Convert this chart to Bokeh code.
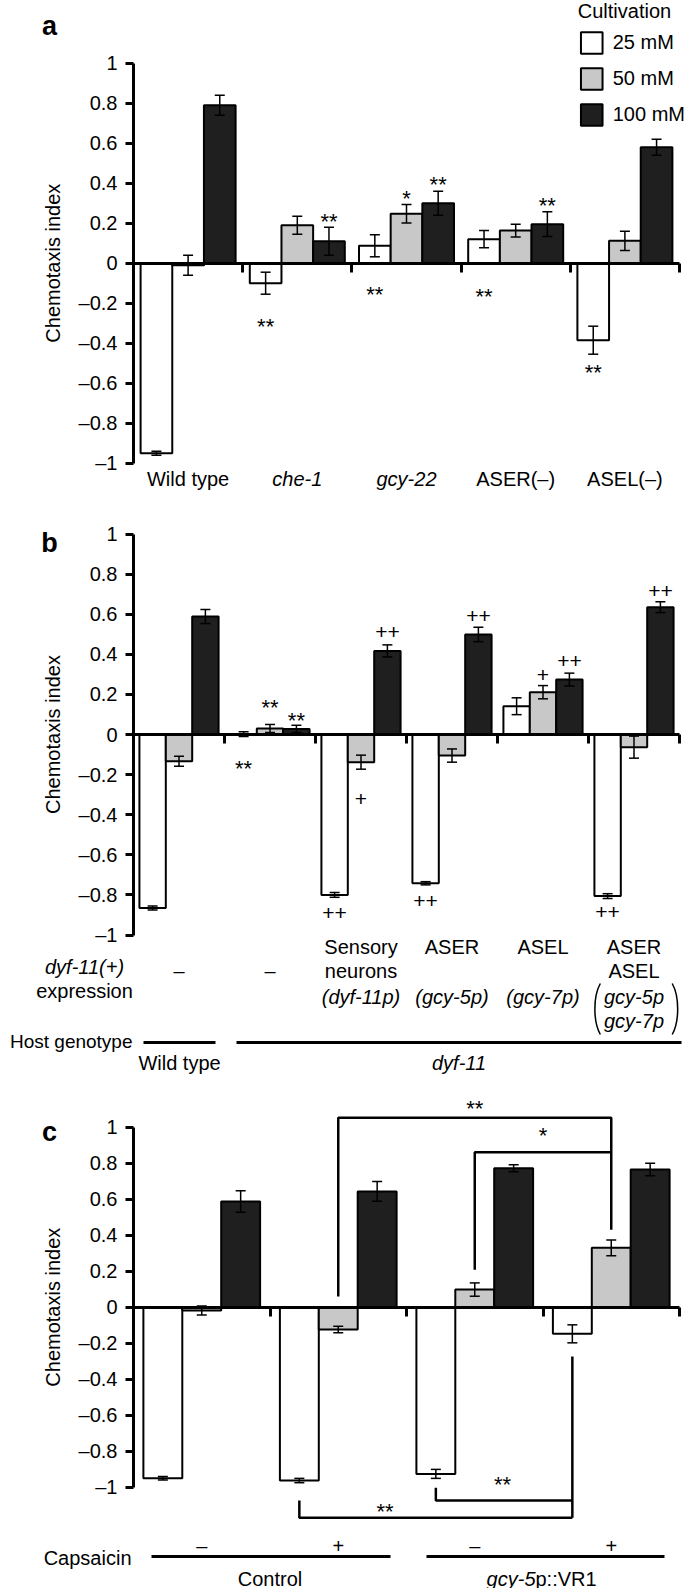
import math
from bokeh.plotting import figure
from bokeh.models import (Range1d, LinearAxis, FixedTicker, Legend, LegendItem,
                          CustomJSTickFormatter, ColumnDataSource)
from bokeh.layouts import column
from bokeh.embed import file_html
from bokeh.resources import INLINE
from bokeh.core.properties import value

# ---------------- data ----------------
series_labels = ["25 mM", "50 mM", "100 mM"]
series_colors = ["#ffffff", "#c8c8c8", "#1f1f1f"]

# panel a
a_groups = ["Wild type", "che-1", "gcy-22", "ASER(–)", "ASEL(–)"]
a_italic = [False, True, True, False, False]
a_25 = [-0.95, -0.10, 0.087, 0.12, -0.385]
a_25_err = [0.01, 0.055, 0.055, 0.043, 0.07]
a_50 = [-0.01, 0.19, 0.247, 0.163, 0.112]
a_50_err = [0.05, 0.045, 0.046, 0.032, 0.048]
a_100 = [0.79, 0.11, 0.30, 0.195, 0.58]
a_100_err = [0.05, 0.07, 0.06, 0.062, 0.04]
a_marks = [(1, 2, "**", 0.2235), (1, 0, "**", -0.30), (2, 0, "**", -0.1415),
           (2, 1, "*", 0.3385), (2, 2, "**", 0.41), (3, 0, "**", -0.15),
           (3, 2, "**", 0.305), (4, 0, "**", -0.53)]

# panel b
b_row1 = ["", "", "Sensory", "ASER", "ASEL", "ASER"]
b_row2 = ["–", "–", "neurons", "", "", "ASEL"]
b_row3 = ["", "", "(dyf-11p)", "(gcy-5p)", "(gcy-7p)", "gcy-5p"]
b_row4 = ["", "", "", "", "", "gcy-7p"]
b_25 = [-0.865, 0.002, -0.80, -0.742, 0.141, -0.806]
b_25_err = [0.01, 0.012, 0.012, 0.008, 0.042, 0.012]
b_50 = [-0.133, 0.03, -0.138, -0.105, 0.211, -0.063]
b_50_err = [0.025, 0.02, 0.035, 0.033, 0.033, 0.055]
b_100 = [0.588, 0.028, 0.417, 0.499, 0.274, 0.635]
b_100_err = [0.035, 0.018, 0.03, 0.036, 0.032, 0.027]
b_marks = [(1, 0, "**", -0.156), (1, 1, "**", 0.148), (1, 2, "**", 0.086),
           (2, 0, "++", -0.889), (2, 1, "+", -0.321), (2, 2, "++", 0.51),
           (3, 0, "++", -0.831), (3, 2, "++", 0.589), (4, 1, "+", 0.299),
           (4, 2, "++", 0.366), (5, 0, "++", -0.886), (5, 2, "++", 0.718)]
host_labels = ["Wild type", "dyf-11"]

# panel c
c_capsaicin = ["–", "+", "–", "+"]
c_25 = [-0.95, -0.963, -0.926, -0.148]
c_25_err = [0.01, 0.012, 0.025, 0.05]
c_50 = [-0.018, -0.124, 0.098, 0.33]
c_50_err = [0.025, 0.018, 0.037, 0.044]
c_100 = [0.587, 0.643, 0.772, 0.765]
c_100_err = [0.06, 0.055, 0.02, 0.035]

# ---------------- style / geometry ----------------
FONT = "Liberation Sans"
FS = "20px"
W = 685
AXIS_PX = 133      # page x of the y axis
END_PX = 679       # page x of the last group boundary
STAR_FS, STAR_OFF = "22px", 3
PLUS_FS = "21px"

def unit(n):
    return (END_PX - AXIS_PX) / n

def fx(px, n):
    return (px - AXIS_PX) / unit(n)

def make_fig(height, n, y0px, scale, top_px):
    ymax = (y0px - top_px) / scale
    ymin = (y0px - (top_px + height)) / scale
    p = figure(width=W, height=height,
               x_range=Range1d(fx(0, n), fx(W, n)), y_range=Range1d(ymin, ymax),
               x_axis_type=None, y_axis_type=None, toolbar_location=None,
               output_backend="svg", min_border_left=0, min_border_right=0,
               min_border_top=0, min_border_bottom=0)
    p.outline_line_color = None
    p.background_fill_color = "white"
    p.border_fill_color = "white"
    fmt = CustomJSTickFormatter(code="""
        var a = Math.round(Math.abs(tick) * 10) / 10;
        return (tick < -1e-9 ? '\\u2013' : '') + a.toString();
    """)
    yax = LinearAxis(fixed_location=0, bounds=(-1, 1),
                     ticker=FixedTicker(ticks=[round(-1 + 0.2 * i, 1) for i in range(11)]),
                     formatter=fmt, axis_line_width=3, axis_line_color="black",
                     major_tick_line_width=3, major_tick_out=8, major_tick_in=0,
                     minor_tick_out=0, minor_tick_in=0, major_label_standoff=8,
                     major_label_text_font=FONT, major_label_text_font_size=FS,
                     major_label_text_color="black")
    p.add_layout(yax, "left")
    xax = LinearAxis(fixed_location=0, bounds=(0, n),
                     ticker=FixedTicker(ticks=list(range(1, n + 1))),
                     axis_line_width=3, axis_line_color="black",
                     major_tick_line_width=3, major_tick_out=9, major_tick_in=0,
                     minor_tick_out=0, minor_tick_in=0,
                     major_label_text_font_size="0px", major_label_text_alpha=0)
    p.add_layout(xax, "below")
    return p

def Yc(py, y0px, scale):
    return (y0px - py) / scale

def add_bars(p, n, bar_w, vals_list, errs_list):
    rs = []
    offs = [-bar_w, 0.0, bar_w]
    for k in range(3):
        vals, errs = vals_list[k], errs_list[k]
        xs = [i + 0.5 + offs[k] for i in range(n)]
        src = ColumnDataSource(dict(x=xs, top=vals,
                                    lo=[v - e for v, e in zip(vals, errs)],
                                    hi=[v + e for v, e in zip(vals, errs)]))
        r = p.vbar(x="x", top="top", bottom=0, width=bar_w, source=src,
                   fill_color=series_colors[k], line_color="black", line_width=2)
        p.segment(x0="x", y0="lo", x1="x", y1="hi", source=src, line_color="black", line_width=1.5)
        p.scatter(x="x", y="hi", marker="dash", size=10, source=src, line_color="black", line_width=1.5)
        p.scatter(x="x", y="lo", marker="dash", size=10, source=src, line_color="black", line_width=1.5)
        rs.append(r)
    return rs

def txt(p, xs, ys, texts, size=FS, style="normal", align="center", baseline="middle",
        yoff=0, angle=0.0):
    p.text(x=xs, y=ys, text=texts, text_font=value(FONT), text_font_size=value(size),
           text_font_style=value(style), text_align=value(align),
           text_baseline=value(baseline), y_offset=yoff, angle=angle, text_color="black")

def star(p, x, y, t):
    if "*" in t:
        txt(p, [x], [y], [t], size=STAR_FS, yoff=STAR_OFF)
    else:
        txt(p, [x], [y], [t], size=PLUS_FS)

def add_marks(p, marks, bar_w):
    for g, s, t, yv in marks:
        star(p, g + 0.5 + (s - 1) * bar_w, yv, t)

# ---------------- panel a ----------------
NA = len(a_groups)
A0, AS, ATOP, AH = 262.7, 200.0, 0, 490
BW = 0.29
pa = make_fig(AH, NA, A0, AS, ATOP)
ra = add_bars(pa, NA, BW, [a_25, a_50, a_100], [a_25_err, a_50_err, a_100_err])
add_marks(pa, a_marks, BW)
for i, (g, it) in enumerate(zip(a_groups, a_italic)):
    txt(pa, [i + 0.5], [Yc(478, A0, AS)], [g], style="italic" if it else "normal")
txt(pa, [fx(49, NA)], [Yc(25, A0, AS)], ["a"], size="27px", style="bold", baseline="alphabetic")
txt(pa, [fx(52, NA)], [0], ["Chemotaxis index"], angle=math.pi / 2)
leg = Legend(items=[LegendItem(label=series_labels[k], renderers=[ra[k]]) for k in range(3)],
             location="top_right", title="Cultivation", title_text_font=FONT,
             title_text_font_size=FS, title_text_font_style="normal", title_standoff=6,
             title_text_color="black",
             label_text_font=FONT, label_text_font_size=FS, label_text_color="black",
             glyph_width=27, glyph_height=27,
             label_height=27, spacing=9, padding=6, margin=0, label_standoff=8,
             border_line_color=None, background_fill_alpha=0)
pa.add_layout(leg)

# ---------------- panel b ----------------
NB = len(b_25)
B0, BS, BTOP, BH = 734.0, 200.5, 490, 590
pb = make_fig(BH, NB, B0, BS, BTOP)
add_bars(pb, NB, BW, [b_25, b_50, b_100], [b_25_err, b_50_err, b_100_err])
add_marks(pb, b_marks, BW)
gx = [i + 0.5 for i in range(NB)]
txt(pb, gx, [Yc(946.7, B0, BS)] * NB, b_row1)
txt(pb, gx, [Yc(970.7, B0, BS)] * NB, b_row2)
txt(pb, gx, [Yc(996, B0, BS)] * NB, b_row3, style="italic")
txt(pb, gx, [Yc(1020.7, B0, BS)] * NB, b_row4, style="italic")
c6 = NB - 0.5
for sgn, xo, xc in [(-1, 0.37, 0.45), (1, 0.42, 0.50)]:
    pb.bezier(x0=[c6 + sgn * xo], y0=[Yc(983, B0, BS)], x1=[c6 + sgn * xo], y1=[Yc(1034, B0, BS)],
              cx0=[c6 + sgn * xc], cy0=[Yc(996, B0, BS)], cx1=[c6 + sgn * xc], cy1=[Yc(1021, B0, BS)],
              line_color="black", line_width=1.5)
hy = Yc(1042, B0, BS)
pb.segment(x0=[fx(143, NB), fx(236, NB)], y0=[hy, hy], x1=[fx(215, NB), fx(681, NB)], y1=[hy, hy],
           line_color="black", line_width=3)
txt(pb, [fx(179, NB)], [Yc(1062.7, B0, BS)], [host_labels[0]])
txt(pb, [fx(458.5, NB)], [Yc(1062.7, B0, BS)], [host_labels[1]], style="italic")
txt(pb, [fx(49, NB)], [Yc(542.7, B0, BS)], ["b"], size="27px", style="bold", baseline="alphabetic")
txt(pb, [fx(52, NB)], [0], ["Chemotaxis index"], angle=math.pi / 2)
txt(pb, [fx(84, NB)], [Yc(966.7, B0, BS)], ["dyf-11(+)"], style="italic")
txt(pb, [fx(84, NB)], [Yc(990, B0, BS)], ["expression"])
txt(pb, [fx(132, NB)], [Yc(1040.7, B0, BS)], ["Host genotype"], size="19px", align="right")

# ---------------- panel c ----------------
NC = len(c_25)
C0, CS, CTOP, CH = 1306.7, 180.0, 1080, 508
BWC = 0.285
pc = make_fig(CH, NC, C0, CS, CTOP)
add_bars(pc, NC, BWC, [c_25, c_50, c_100], [c_25_err, c_50_err, c_100_err])

def bx(g, s):
    return g + 0.5 + (s - 1) * BWC

def cy(py):
    return Yc(py, C0, CS)

br_xs = [[bx(1, 1), bx(1, 1), bx(3, 1), bx(3, 1)],
         [bx(2, 1), bx(2, 1), bx(3, 1)],
         [bx(2, 0), bx(2, 0), bx(3, 0)],
         [bx(3, 0), bx(3, 0)],
         [bx(1, 0), bx(1, 0), bx(3, 0)]]
br_ys = [[cy(1296), cy(1117.3), cy(1117.3), cy(1229.3)],
         [cy(1269.3), cy(1151.7), cy(1151.7)],
         [cy(1487.3), cy(1500), cy(1500)],
         [cy(1356), cy(1517.3)],
         [cy(1500), cy(1517.3), cy(1517.3)]]
pc.multi_line(xs=br_xs, ys=br_ys, line_color="black", line_width=2.5)
star(pc, (bx(1, 1) + bx(3, 1)) / 2, cy(1105), "**")
star(pc, (bx(2, 1) + bx(3, 1)) / 2, cy(1131.7), "*")
star(pc, fx(502, NC), cy(1481), "**")
star(pc, fx(384.5, NC), cy(1507.7), "**")

cx = [i + 0.5 for i in range(NC)]
txt(pc, cx, [cy(1545)] * NC, c_capsaicin)
ly = cy(1556)
pc.segment(x0=[fx(151, NC), fx(426, NC)], y0=[ly, ly], x1=[fx(390, NC), fx(664, NC)], y1=[ly, ly],
           line_color="black", line_width=3)
txt(pc, [1.0], [cy(1578)], ["Control"])
split = 3.0 + fx(535, NC) - fx(542.5, NC)
txt(pc, [split], [cy(1578)], ["gcy-5"], style="italic", align="right")
txt(pc, [split], [cy(1578)], ["p::VR1"], align="left")
txt(pc, [fx(49, NC)], [cy(1131.7)], ["c"], size="27px", style="bold", baseline="alphabetic")
txt(pc, [fx(52, NC)], [0], ["Chemotaxis index"], angle=math.pi / 2)
txt(pc, [fx(131, NC)], [cy(1557)], ["Capsaicin"], align="right")

layout = column(pa, pb, pc, spacing=0)
open("out.html", "w").write(file_html(layout, INLINE))
